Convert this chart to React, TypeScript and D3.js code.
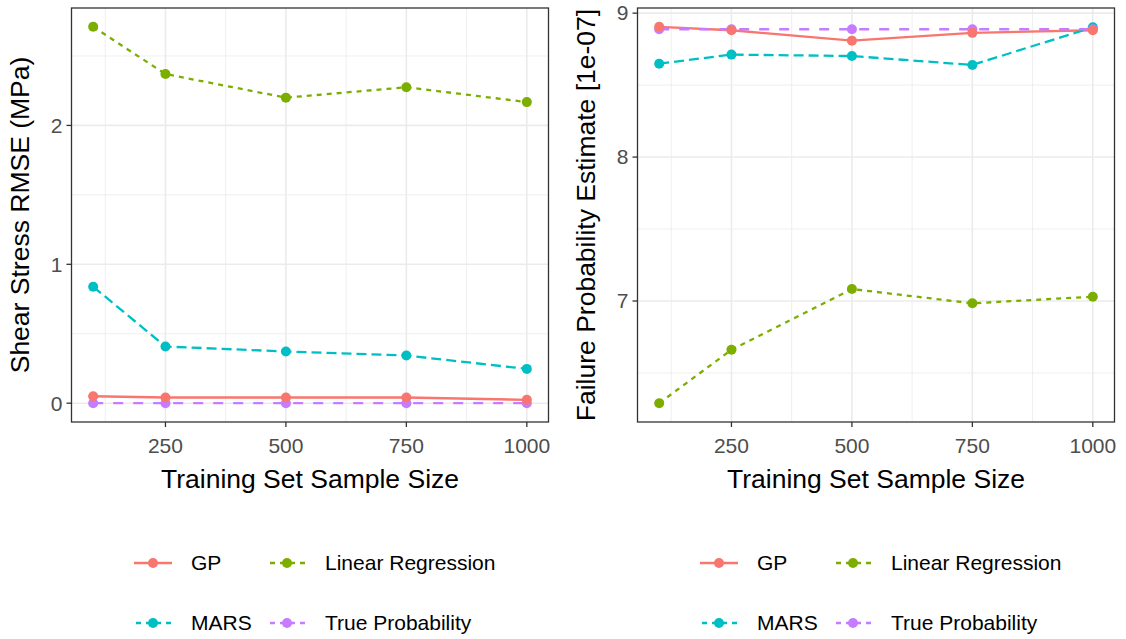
import React from "react";
import * as d3 from "d3";

// Training set sizes shared by both panels
const sampleSizes = [100, 250, 500, 750, 1000];

// Shear stress RMSE (MPa) per model
const rmseGP = [0.05, 0.041, 0.041, 0.041, 0.024];
const rmseLinear = [2.71, 2.37, 2.2, 2.275, 2.168];
const rmseMARS = [0.839, 0.408, 0.372, 0.343, 0.247];
const rmseTrue = [0, 0, 0, 0, 0];

// Failure probability estimate (x 1e-07) per model
const probGP = [8.905, 8.881, 8.809, 8.863, 8.881];
const probLinear = [6.29, 6.661, 7.083, 6.984, 7.03];
const probMARS = [8.649, 8.712, 8.702, 8.64, 8.902];
const probTrue = [8.888, 8.888, 8.888, 8.888, 8.888];

const modelNames = ["GP", "Linear Regression", "MARS", "True Probability"];
const modelColors = ["#F8766D", "#7CAE00", "#00BFC4", "#C77CFF"];
const modelDashes = ["none", "5 5", "10 5", "10 10"];

const xTicks = [250, 500, 750, 1000];
const xMinor = [125, 375, 625, 875];
const rmseTicks = [0, 1, 2];
const rmseMinor = [0.5, 1.5, 2.5];
const probTicks = [7, 8, 9];
const probMinor = [6.5, 7.5, 8.5];

const FONT = "'Liberation Sans', Arial, sans-serif";

type PanelProps = {
  left: number;
  series: number[][];
  yTicks: number[];
  yMinor: number[];
  yTitle: string;
};

function expand(lo: number, hi: number): [number, number] {
  const pad = (hi - lo) * 0.05;
  return [lo - pad, hi + pad];
}

function Panel({ left, series, yTicks, yMinor, yTitle }: PanelProps) {
  const width = 477;
  const top = 8;
  const height = 414;
  const x = d3
    .scaleLinear()
    .domain(expand(d3.min(sampleSizes)!, d3.max(sampleSizes)!))
    .range([left, left + width]);
  const all = series.flat();
  const y = d3
    .scaleLinear()
    .domain(expand(d3.min(all)!, d3.max(all)!))
    .range([top + height, top]);
  const line = d3
    .line<number>()
    .x((_, i) => x(sampleSizes[i]))
    .y((v) => y(v));

  // GP points drawn last so they sit on top
  const pointOrder = [1, 2, 3, 0];
  const cx = left + width / 2;
  const legendLeft = cx - 176;

  return (
    <g>
      <rect x={left} y={top} width={width} height={height} fill="#fff" />
      {yMinor.map((t) => (
        <line key={"ym" + t} x1={left} x2={left + width} y1={y(t)} y2={y(t)} stroke="#EBEBEB" strokeWidth={0.8} />
      ))}
      {xMinor.map((t) => (
        <line key={"xm" + t} x1={x(t)} x2={x(t)} y1={top} y2={top + height} stroke="#EBEBEB" strokeWidth={0.8} />
      ))}
      {yTicks.map((t) => (
        <line key={"yg" + t} x1={left} x2={left + width} y1={y(t)} y2={y(t)} stroke="#EBEBEB" strokeWidth={1.6} />
      ))}
      {xTicks.map((t) => (
        <line key={"xg" + t} x1={x(t)} x2={x(t)} y1={top} y2={top + height} stroke="#EBEBEB" strokeWidth={1.6} />
      ))}
      {series.map((s, i) => (
        <path
          key={"l" + i}
          d={line(s) || ""}
          fill="none"
          stroke={modelColors[i]}
          strokeWidth={2.3}
          strokeDasharray={modelDashes[i]}
        />
      ))}
      {pointOrder.map((i) =>
        series[i].map((v, j) => (
          <circle key={"p" + i + "-" + j} cx={x(sampleSizes[j])} cy={y(v)} r={5} fill={modelColors[i]} />
        ))
      )}
      <rect x={left} y={top} width={width} height={height} fill="none" stroke="#333333" strokeWidth={1.3} />
      {yTicks.map((t) => (
        <g key={"yt" + t}>
          <line x1={left - 5} x2={left} y1={y(t)} y2={y(t)} stroke="#333333" strokeWidth={1.3} />
          <text x={left - 9} y={y(t)} dy="0.35em" textAnchor="end" fontSize={21} fill="#4D4D4D" fontFamily={FONT}>
            {t}
          </text>
        </g>
      ))}
      {xTicks.map((t) => (
        <g key={"xt" + t}>
          <line x1={x(t)} x2={x(t)} y1={top + height} y2={top + height + 5} stroke="#333333" strokeWidth={1.3} />
          <text x={x(t)} y={top + height + 31} textAnchor="middle" fontSize={21} fill="#4D4D4D" fontFamily={FONT}>
            {t}
          </text>
        </g>
      ))}
      <text x={cx} y={488} textAnchor="middle" fontSize={26.5} fill="#000" fontFamily={FONT}>
        Training Set Sample Size
      </text>
      <text
        transform={`translate(${left - 43},${top + height / 2}) rotate(-90)`}
        textAnchor="middle"
        fontSize={26.5}
        fill="#000"
        fontFamily={FONT}
      >
        {yTitle}
      </text>
      {modelNames.map((name, i) => {
        const col = i % 2;
        const row = Math.floor(i / 2);
        const kx = legendLeft + col * 134;
        const ky = 563 + row * 60;
        return (
          <g key={"lg" + i}>
            <line
              x1={kx}
              x2={kx + 38}
              y1={ky}
              y2={ky}
              stroke={modelColors[i]}
              strokeWidth={2.3}
              strokeDasharray={modelDashes[i] === "none" ? "none" : "5 5"}
              strokeDashoffset={modelDashes[i] === "none" ? 0 : -2}
            />
            <circle cx={kx + 19} cy={ky} r={5} fill={modelColors[i]} />
            <text x={kx + 57} y={ky} dy="0.35em" fontSize={21} fill="#000" fontFamily={FONT}>
              {name}
            </text>
          </g>
        );
      })}
    </g>
  );
}

export default function App() {
  return (
    <div style={{ position: "absolute", left: 0, top: 0 }}>
      <svg width={1126} height={639} style={{ display: "block", background: "#fff" }}>
        <Panel
          left={71.5}
          series={[rmseGP, rmseLinear, rmseMARS, rmseTrue]}
          yTicks={rmseTicks}
          yMinor={rmseMinor}
          yTitle="Shear Stress RMSE (MPa)"
        />
        <Panel
          left={637.5}
          series={[probGP, probLinear, probMARS, probTrue]}
          yTicks={probTicks}
          yMinor={probMinor}
          yTitle="Failure Probability Estimate [1e-07]"
        />
      </svg>
    </div>
  );
}
